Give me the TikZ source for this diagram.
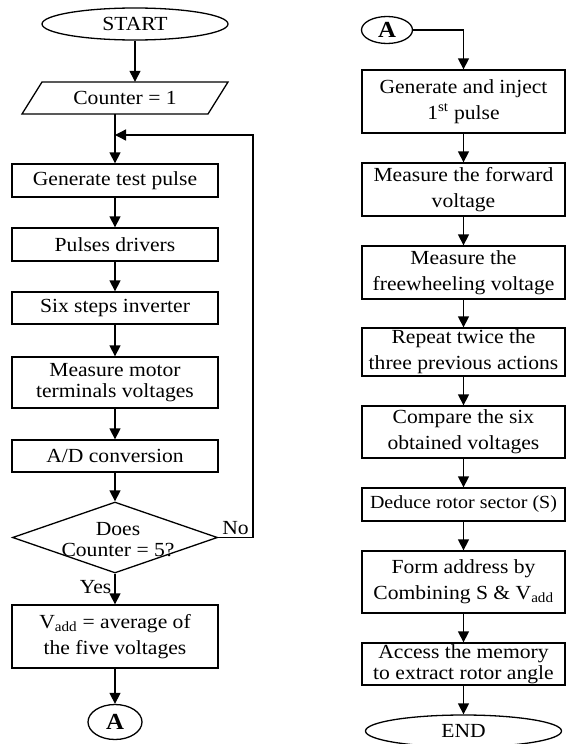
\documentclass[tikz,border=0pt]{standalone}
\usepackage{fontspec}
\setmainfont{Liberation Serif}[FakeStretch=1.08]
\usetikzlibrary{arrows.meta,shapes.geometric}
\begin{document}
\begin{tikzpicture}[x=1pt,y=-1pt,
  every node/.style={font=\fontsize{20}{26}\selectfont, align=center, inner sep=0pt},
  tight/.style={font=\fontsize{20}{21}\selectfont},
  box/.style={draw, line width=1.3pt, rectangle, minimum width=206pt},
  rbox/.style={draw, line width=1.3pt, rectangle, minimum width=203pt},
  term/.style={draw, ellipse, line width=1.3pt, minimum height=32pt},
  conn/.style={draw, ellipse, line width=1.3pt, font=\fontsize{23}{23}\selectfont\bfseries},
  arr/.style={line width=1.3pt, -{Triangle[width=11pt,length=11pt]}},
  lin/.style={line width=1.3pt}]
\useasboundingbox (0,0) rectangle (566,744);

% left column
\node[term, minimum width=186pt] (start) at (135,24) {START};
\node[minimum width=186pt, minimum height=32pt] (cnt) at (125,98) {Counter = 1};
\draw[lin] (42,82) -- (228,82) -- (208,114) -- (22,114) -- cycle;
\node[box, minimum height=33pt] (b1) at (115,180.5) {Generate test pulse};
\node[box, minimum height=33pt] (b2) at (115,244.5) {Pulses drivers};
\node[box, minimum height=32pt] (b3) at (115,308) {Six steps inverter};
\node[box, tight, minimum height=51pt] (b4) at (115,382.5) {Measure motor\\terminals voltages};
\node[box, minimum height=32pt] (b5) at (115,456) {A/D conversion};
\node[draw, diamond, line width=1.3pt, minimum width=205pt, minimum height=71pt] (dia) at (115,537.5) {};
\node[tight] (diat) at (118,540) {Does\\Counter = 5?};
\node[box, minimum height=63pt] (b6) at (115,636.5) {V\textsubscript{add} = average of\\the five voltages};
\node[conn, minimum width=54pt, minimum height=35pt] (A1) at (115,722) {A};

\coordinate (join) at (115,135);
\coordinate (loopx) at (253,0);

\draw[arr] (start) -- (start.south |- cnt.north);
\draw[lin] (b1.north |- cnt.south) -- (join);
\draw[arr] (join) -- (b1);
\draw[arr] (b1) -- (b2);
\draw[arr] (b2) -- (b3);
\draw[arr] (b3) -- (b4);
\draw[arr] (b4) -- (b5);
\draw[arr] (b5) -- (dia);
\draw[arr] (dia) -- node[pos=0.42, left=3pt] {Yes} (b6);
\draw[arr] (b6) -- (A1);
\draw[arr] (dia.east) -- node[above=2pt] {No} (dia.east -| loopx) -- (loopx |- join) -- (join);

% right column
\node[conn, minimum width=51pt, minimum height=27pt] (A2) at (387,30) {A};
\node[rbox, minimum height=63pt] (r1) at (463.5,101.5) {Generate and inject\\1\textsuperscript{st} pulse};
\node[rbox, minimum height=53pt] (r2) at (463.5,189.5) {Measure the forward\\voltage};
\node[rbox, minimum height=53pt] (r3) at (463.5,272.5) {Measure the\\freewheeling voltage};
\node[rbox, minimum height=48pt] (r4) at (463.5,352) {Repeat twice the\\three previous actions};
\node[rbox, minimum height=52pt] (r5) at (463.5,432) {Compare the six\\obtained voltages};
\node[rbox, minimum height=33pt, font=\fontsize{18.5}{20}\selectfont] (r6) at (463.5,504.5) {Deduce rotor sector (S)};
\node[rbox, minimum height=62pt] (r7) at (463.5,582) {Form address by\\Combining S \& V\textsubscript{add}};
\node[rbox, tight, minimum height=42pt] (r8) at (463.5,664) {Access the memory\\to extract rotor angle};
\node[term, minimum width=196pt] (end) at (463.5,731) {END};

\draw[arr] (A2) -- (A2 -| r1) -- (r1);
\draw[arr] (r1) -- (r2);
\draw[arr] (r2) -- (r3);
\draw[arr] (r3) -- (r4);
\draw[arr] (r4) -- (r5);
\draw[arr] (r5) -- (r6);
\draw[arr] (r6) -- (r7);
\draw[arr] (r7) -- (r8);
\draw[arr] (r8) -- (end);
\end{tikzpicture}
\end{document}
